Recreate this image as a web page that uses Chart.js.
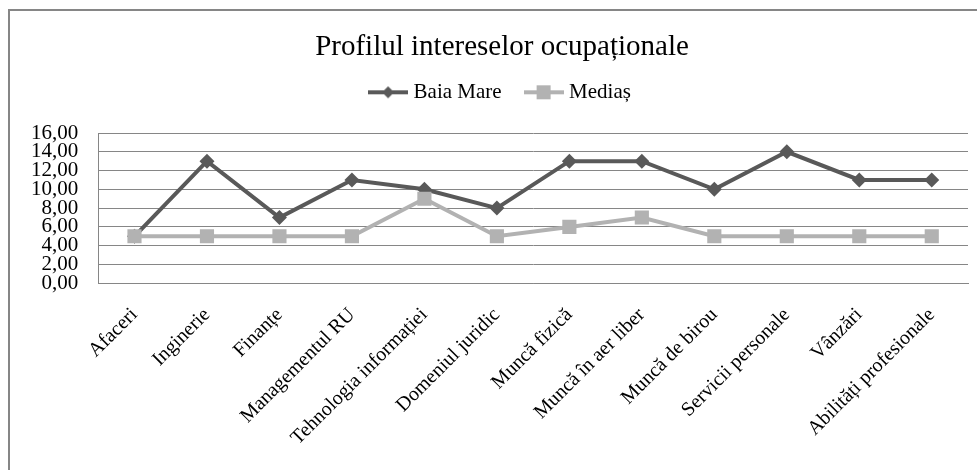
<!DOCTYPE html>
<html>
<head>
<meta charset="utf-8">
<script src="https://cdn.jsdelivr.net/npm/chart.js@4/dist/chart.umd.min.js"></script>
<style>
  html, body { margin: 0; padding: 0; background: #fff; overflow: hidden; }
  #box { position: absolute; left: 0; top: 0; width: 977px; height: 470px; overflow: hidden; }
  #frame { position: absolute; left: 8px; top: 9px; right: -10px; bottom: -10px;
           border-top: 2px solid #868686; border-left: 2px solid #868686; }
  #myChart { position: absolute; left: 0; top: 0; }
</style>
</head>
<body>
<div id="box">
  <div id="frame"></div>
  <!-- graficul original e taiat in dreapta, deci canvas-ul e putin mai lat -->
  <canvas id="myChart" width="993" height="470"></canvas>
</div>
<script>
// date
const categories = ['Afaceri', 'Inginerie', 'Finanțe', 'Managementul RU', 'Tehnologia informației',
  'Domeniul juridic', 'Muncă fizică', 'Muncă în aer liber', 'Muncă de birou',
  'Servicii personale', 'Vânzări', 'Abilități profesionale'];
const baiaMare = [5, 13, 7, 11, 10, 8, 13, 13, 10, 14, 11, 11];
const medias = [5, 5, 5, 5, 9, 5, 6, 7, 5, 5, 5, 5];
const yTicks = [0, 2, 4, 6, 8, 10, 12, 14, 16];

const darkCol = '#595959';
const lightCol = '#b2b2b2';
const serif = "'Liberation Serif', 'Times New Roman', serif";

// mic simbol pentru legenda: linie + marker
function legendIcon(color, style) {
  var c = document.createElement('canvas');
  c.width = 40; c.height = 16;
  var g = c.getContext('2d');
  g.strokeStyle = color;
  g.lineWidth = 4;
  g.beginPath(); g.moveTo(0, 8); g.lineTo(40, 8); g.stroke();
  g.fillStyle = color;
  if (style === 'diamond') {
    g.beginPath(); g.moveTo(20, 2); g.lineTo(26, 8); g.lineTo(20, 14); g.lineTo(14, 8); g.closePath(); g.fill();
  } else {
    g.fillRect(13, 1, 14, 14);
  }
  return c;
}
const icons = [legendIcon(darkCol, 'diamond'), legendIcon(lightCol, 'square')];

var ctx = document.getElementById('myChart').getContext('2d');
const myChart = new Chart(ctx, {
  type: 'line',
  data: {
    labels: categories,
    datasets: [
      {
        label: 'Baia Mare',
        data: baiaMare,
        borderColor: darkCol,
        backgroundColor: darkCol,
        borderWidth: 4,
        pointStyle: 'rectRot',
        pointRadius: 7.5,
        pointHoverRadius: 7.5,
        pointBorderWidth: 0,
        tension: 0,
        order: 1
      },
      {
        label: 'Mediaș',
        data: medias,
        borderColor: lightCol,
        backgroundColor: lightCol,
        borderWidth: 4,
        pointStyle: 'rect',
        pointRadius: 10,
        pointHoverRadius: 10,
        pointBorderWidth: 0,
        tension: 0,
        order: 0
      }
    ]
  },
  options: {
    responsive: false,
    animation: false,
    layout: { padding: { left: 11, right: 0, top: 0, bottom: 0 } },
    plugins: {
      title: {
        display: true,
        text: 'Profilul intereselor ocupaționale',
        color: '#000',
        font: { family: serif, size: 29, weight: 'normal' },
        padding: { top: 30, bottom: -10 }
      },
      // doar spatiu intre legenda si grafic
      subtitle: {
        display: true,
        text: '',
        weight: 500,
        font: { size: 1 },
        padding: { top: 0, bottom: 19 }
      },
      legend: {
        labels: {
          color: '#000',
          font: { family: serif, size: 21 },
          usePointStyle: true,
          pointStyleWidth: 30,
          padding: 27,
          generateLabels: function (chart) {
            return chart.data.datasets.map(function (ds, i) {
              return {
                text: ds.label,
                pointStyle: icons[i],
                fillStyle: ds.borderColor,
                strokeStyle: ds.borderColor,
                lineWidth: 0,
                fontColor: '#000',
                datasetIndex: i
              };
            });
          }
        }
      },
      tooltip: { enabled: false }
    },
    scales: {
      x: {
        offset: true,
        grid: { display: false, drawTicks: false },
        border: { color: '#868686', width: 1 },
        ticks: {
          color: '#000',
          font: { family: serif, size: 20 },
          minRotation: 45,
          maxRotation: 45,
          autoSkip: false,
          padding: 20
        }
      },
      y: {
        min: 0,
        max: 16,
        afterBuildTicks: function (axis) {
          axis.ticks = yTicks.map(v => ({ value: v }));
        },
        grid: { color: '#868686', lineWidth: 1, drawTicks: false },
        border: { color: '#868686', width: 1 },
        ticks: {
          color: '#000',
          font: { family: serif, size: 21 },
          padding: 20,
          autoSkip: false,
          callback: v => v.toFixed(2).replace('.', ',')
        }
      },
      // axa goala in dreapta, doar ca spatiu
      yRight: {
        type: 'linear',
        position: 'right',
        grid: { display: false, drawTicks: false },
        border: { display: false },
        ticks: { display: false },
        afterFit: function (s) { s.width = 25; }
      }
    }
  }
});
</script>
</body>
</html>
